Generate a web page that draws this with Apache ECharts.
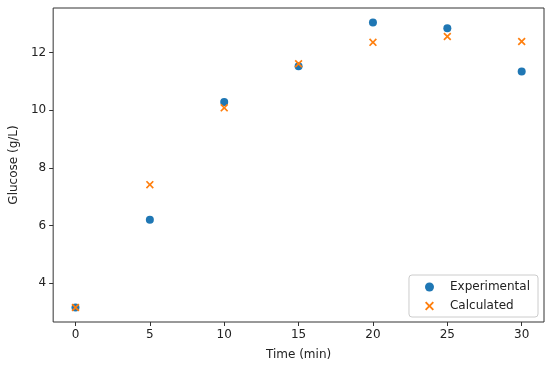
<!DOCTYPE html>
<html><head><meta charset="utf-8">
<script src="https://cdn.jsdelivr.net/npm/echarts@6/dist/echarts.min.js"></script>
<style>html,body{margin:0;padding:0;background:#fff}#c{width:550px;height:367px}</style>
</head><body><div id="c"></div>
<script>
const times = [0, 5, 10, 15, 20, 25, 30];
const experimental = [3.16, 6.20, 10.28, 11.52, 13.04, 12.84, 11.34];
const calculated = [3.16, 7.42, 10.08, 11.61, 12.35, 12.55, 12.38];
const xTicks = [0, 5, 10, 15, 20, 25, 30];
const yTicks = [4, 6, 8, 10, 12];

const crossPath = 'path://M0,1.5L1.5,0L5,3.5L8.5,0L10,1.5L6.5,5L10,8.5L8.5,10L5,6.5L1.5,10L0,8.5L3.5,5Z';
const font = 'DejaVu Sans';
const chart = echarts.init(document.getElementById('c'), null, {renderer: 'canvas'});
chart.setOption({
  animation: false,
  backgroundColor: '#fff',
  grid: {left: 53, top: 8, right: 6, bottom: 45, show: true, borderColor: '#333', borderWidth: 1, backgroundColor: 'transparent'},
  xAxis: {
    type: 'value', min: -1.5, max: 31.5,
    name: 'Time (min)', nameLocation: 'middle', nameGap: 27,
    nameTextStyle: {fontFamily: font, fontSize: 12, color: '#222'},
    axisLine: {show: false, onZero: false},
    axisTick: {show: true, length: 4, lineStyle: {color: '#333'}, customValues: xTicks},
    axisLabel: {fontFamily: font, fontSize: 12, color: '#222', margin: 7, customValues: xTicks},
    splitLine: {show: false}
  },
  yAxis: {
    type: 'value', min: 2.66, max: 13.54,
    name: 'Glucose (g/L)', nameLocation: 'middle', nameGap: 33,
    nameTextStyle: {fontFamily: font, fontSize: 12, color: '#222'},
    axisLine: {show: false, onZero: false},
    axisTick: {show: true, length: 4, lineStyle: {color: '#333'}, customValues: yTicks},
    axisLabel: {fontFamily: font, fontSize: 12, color: '#222', margin: 7, customValues: yTicks},
    splitLine: {show: false}
  },
  legend: {
    orient: 'vertical', right: 12, bottom: 50,
    backgroundColor: '#fff', borderColor: '#ccc', borderWidth: 1, borderRadius: 3,
    padding: [6, 8, 5, 16], itemGap: 7, itemWidth: 9, itemHeight: 9,
    textStyle: {fontFamily: font, fontSize: 12, color: '#222', padding: [0, 0, 0, 11]},
    data: [{name: 'Experimental', icon: 'circle'}, {name: 'Calculated', icon: crossPath}]
  },
  series: [
    {name: 'Experimental', type: 'scatter', symbol: 'circle', symbolSize: 8,
     itemStyle: {color: '#1f77b4', opacity: 1},
     data: times.map((t, i) => [t, experimental[i]])},
    {name: 'Calculated', type: 'scatter', symbol: crossPath, symbolSize: 8,
     itemStyle: {color: '#ff7f0e', opacity: 1},
     data: times.map((t, i) => [t, calculated[i]])}
  ]
});
</script></body></html>
